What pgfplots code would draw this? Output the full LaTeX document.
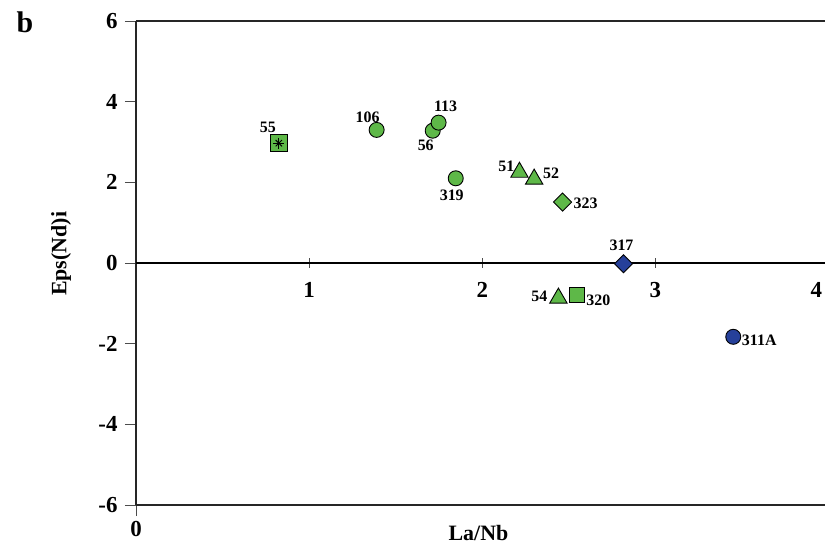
\documentclass[border=0pt]{standalone}
\usepackage{pgfplots}
\pgfplotsset{compat=1.18}
\usepackage{fontspec}
\setmainfont{Liberation Serif}
\definecolor{grn}{RGB}{94,184,72}
\definecolor{blu}{RGB}{38,64,154}
\newcommand{\tickfont}{\bfseries\fontsize{23}{23}\selectfont}
\newcommand{\lblfont}{\bfseries\fontsize{16}{16}\selectfont}
\pgfplotsset{
  lbl/.style={nodes near coords, point meta=explicit symbolic,
    visualization depends on={\thisrow{dx}\as\dx},
    visualization depends on={\thisrow{dy}\as\dy},
    every node near coord/.append style={anchor=center, xshift=\dx bp, yshift=\dy bp, font=\lblfont, text=black, inner sep=0pt}},
  geom/.style={at={(0,0)}, anchor=south west, scale only axis, width=689bp, height=484bp,
    xmin=0, xmax=3.98, ymin=-6, ymax=6, clip=false},
  mk/.style={only marks, mark options={draw=black, line width=0.9bp}},
  mkd/.style={only marks, mark options={draw=black, line width=0.9bp, rotate=45}},
}
\begin{document}
\begin{tikzpicture}
\useasboundingbox (-136bp,-43bp) rectangle (689bp,505bp);
% frame axis
\begin{axis}[geom,
  axis x line*=bottom, axis y line*=left,
  xtick={0}, xticklabels={0},
  ytick={-6,-4,-2,0,2,4,6}, yticklabels={-6,-4,-2,0,2,4,6},
  tick align=outside, major tick length=11bp,
  axis line style={line width=2bp, black!85},
  tick style={line width=0.8bp, black!70},
  ticklabel style={font=\tickfont},
  yticklabel style={xshift=-4bp},
  xticklabel style={yshift=-2bp},
  xlabel={La/Nb}, ylabel={Eps(Nd)i},
  every axis x label/.style={at={(rel axis cs:0.497,0)}, anchor=center, yshift=-28bp, font=\bfseries\fontsize{22}{22}\selectfont},
  every axis y label/.style={at={(rel axis cs:0,0.519)}, anchor=center, rotate=90, yshift=75bp, font=\bfseries\fontsize{22}{22}\selectfont},
]
\draw[line width=2bp, black!85] (rel axis cs:0,1) -- (rel axis cs:1,1);
\end{axis}
% middle axis with data
\begin{axis}[geom,
  axis x line*=middle, axis y line=none,
  xtick={1,2,3}, xticklabels={1,2,3},
  extra x ticks={3.93}, extra x tick labels={4},
  extra x tick style={tick style={draw=none}},
  tick align=center, major tick length=10bp,
  axis line style={line width=1.1bp, black},
  tick style={line width=0.8bp, black!70},
  xticklabel style={font=\tickfont, yshift=-11bp},
]
% green circles
\addplot[mk, mark=*, mark size=7.5bp, fill=grn, color=grn, lbl] table[x=x, y=y, meta=lab] {
x y dx dy lab
1.39 3.30 -9 13 106
1.714 3.28 -7 -15 56
1.748 3.48 7 16 113
1.847 2.10 -4 -17 319
};
% green triangles
\addplot[mk, mark=triangle*, mark size=10bp, fill=grn, color=grn, lbl] table[x=x, y=y, meta=lab] {
x y dx dy lab
2.215 2.25 -13 6 51
2.30 2.08 17 6 52
2.44 -0.87 -19 2 54
};
% green squares
\addplot[mk, mark=square*, mark size=7.5bp, fill=grn, color=grn, lbl] table[x=x, y=y, meta=lab] {
x y dx dy lab
2.55 -0.79 21 -5 320
};
\addplot[mk, mark=square*, mark size=8.3bp, fill=grn, color=grn, lbl] table[x=x, y=y, meta=lab] {
x y dx dy lab
0.825 2.97 -11 16 55
};
\addplot[only marks, mark=+, mark size=5.5bp, mark options={line width=0.9bp, black}] coordinates {(0.825,2.97)};
\addplot[only marks, mark=x, mark size=4.5bp, mark options={line width=0.9bp, black}] coordinates {(0.825,2.97)};
% green diamond
\addplot[mkd, mark=square*, mark size=6.4bp, fill=grn, color=grn, lbl] table[x=x, y=y, meta=lab] {
x y dx dy lab
2.464 1.51 23 -1 323
};
% blue diamond
\addplot[mkd, mark=square*, mark size=6.4bp, fill=blu, color=blu, lbl] table[x=x, y=y, meta=lab] {
x y dx dy lab
2.816 -0.02 -2 18 317
};
% blue circle
\addplot[mk, mark=*, mark size=7.5bp, fill=blu, color=blu, lbl] table[x=x, y=y, meta=lab] {
x y dx dy lab
3.45 -1.83 26 -3 311A
};
\end{axis}
\node[font=\bfseries\fontsize{30}{30}\selectfont] at (-111bp,483bp) {b};
\end{tikzpicture}
\end{document}
